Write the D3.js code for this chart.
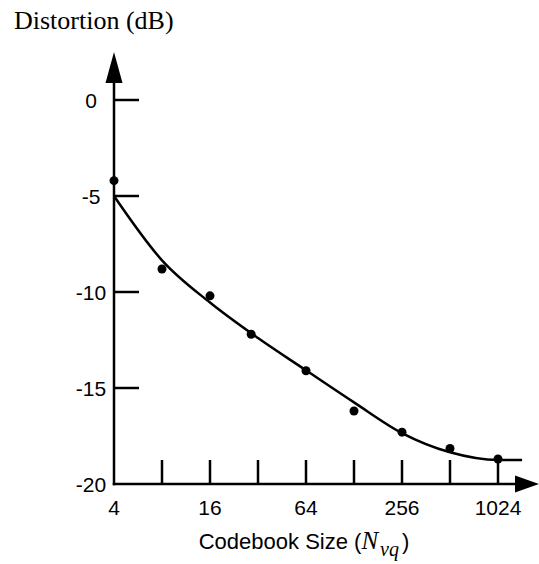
<!DOCTYPE html>
<html>
<head>
<meta charset="utf-8">
<script src="https://cdn.jsdelivr.net/npm/d3@7"></script>
<style>
  body { margin: 0; background: #fff; }
  svg { display: block; }
</style>
</head>
<body>
<svg id="chart"></svg>
<script>
// codebook sizes and measured distortion (dots)
var pointSizes = [4, 8, 16, 29, 64, 128, 256, 512, 1024];
var pointValues = [-4.2, -8.8, -10.2, -12.2, -14.1, -16.2, -17.3, -18.15, -18.7];

// fitted curve
var curveSizes = [4, 8, 16, 32, 64, 128, 256, 512, 1024, 1450];
var curveValues = [-5, -8.35, -10.55, -12.4, -14.08, -15.75, -17.35, -18.35, -18.75, -18.75];

var xTicks = [4, 8, 16, 32, 64, 128, 256, 512, 1024];
var xTickLabels = ["4", "", "16", "", "64", "", "256", "", "1024"];
var yTicks = [0, -5, -10, -15, -20];

var width = 539, height = 564;

var svg = d3.select("#chart").attr("width", width).attr("height", height);

var x = d3.scaleLog().base(2).domain([4, 1024]).range([114, 498]);
var y = d3.scaleLinear().domain([-20, 0]).range([484, 100]);

var lw = 2.5;
var sans = "Arial, 'Liberation Sans', sans-serif";
var serif = "'Times New Roman', 'Liberation Serif', serif";

// y axis with arrow
svg.append("line").attr("x1", x(4)).attr("x2", x(4))
  .attr("y1", y(-20) + lw / 2).attr("y2", 80)
  .attr("stroke", "#000").attr("stroke-width", lw);
svg.append("path")
  .attr("d", "M" + (x(4) - 8.5) + ",83 L" + x(4) + ",52 L" + (x(4) + 8.5) + ",83 Z")
  .attr("fill", "#000");

// x axis with arrow
svg.append("line").attr("x1", x(4) - lw / 2).attr("x2", 518)
  .attr("y1", y(-20)).attr("y2", y(-20))
  .attr("stroke", "#000").attr("stroke-width", lw);
svg.append("path")
  .attr("d", "M515," + (y(-20) - 8.5) + " L539," + y(-20) + " L515," + (y(-20) + 8.5) + " Z")
  .attr("fill", "#000");

// y ticks (to the right)
svg.selectAll(".ytick").data(yTicks.filter(function(d) { return d > -20; }))
  .enter().append("line")
  .attr("x1", x(4)).attr("x2", x(4) + 25)
  .attr("y1", function(d) { return y(d); }).attr("y2", function(d) { return y(d); })
  .attr("stroke", "#000").attr("stroke-width", lw);

svg.selectAll(".ylab").data(yTicks).enter().append("text")
  .attr("x", 91).attr("y", function(d) { return y(d); })
  .attr("dy", "0.36em")
  .attr("text-anchor", "middle")
  .style("font-family", sans)
  .style("font-size", "21px")
  .text(function(d) { return d; });

// x ticks (upward)
svg.selectAll(".xtick").data(xTicks.slice(1))
  .enter().append("line")
  .attr("x1", function(d) { return x(d); }).attr("x2", function(d) { return x(d); })
  .attr("y1", y(-20)).attr("y2", y(-20) - 24)
  .attr("stroke", "#000").attr("stroke-width", lw);

svg.selectAll(".xlab").data(xTicks).enter().append("text")
  .attr("x", function(d) { return x(d); }).attr("y", 515)
  .attr("text-anchor", "middle")
  .style("font-family", sans)
  .style("font-size", "21px")
  .text(function(d, i) { return xTickLabels[i]; });

// curve
var line = d3.line()
  .x(function(d) { return x(d[0]); })
  .y(function(d) { return y(d[1]); })
  .curve(d3.curveMonotoneX);

svg.append("path")
  .datum(d3.zip(curveSizes, curveValues))
  .attr("d", line)
  .attr("fill", "none")
  .attr("stroke", "#000")
  .attr("stroke-width", lw);

// dots
svg.selectAll(".dot").data(d3.zip(pointSizes, pointValues)).enter().append("circle")
  .attr("cx", function(d) { return x(d[0]); })
  .attr("cy", function(d) { return y(d[1]); })
  .attr("r", 4.5)
  .attr("fill", "#000");

// titles
svg.append("text")
  .attr("x", 14).attr("y", 29)
  .style("font-family", serif)
  .style("font-size", "26px")
  .text("Distortion (dB)");

var xl = svg.append("text")
  .attr("x", 304).attr("y", 549)
  .attr("text-anchor", "middle")
  .style("font-family", sans)
  .style("font-size", "22px");
xl.append("tspan").text("Codebook Size (");
xl.append("tspan").style("font-family", serif)
  .style("font-style", "italic").style("font-size", "25px").text("N");
xl.append("tspan").attr("dy", 7).attr("dx", 2).style("font-family", serif)
  .style("font-style", "italic").style("font-size", "20px").text("vq");
xl.append("tspan").attr("dy", -7).attr("dx", 3).text(")");
</script>
</body>
</html>
